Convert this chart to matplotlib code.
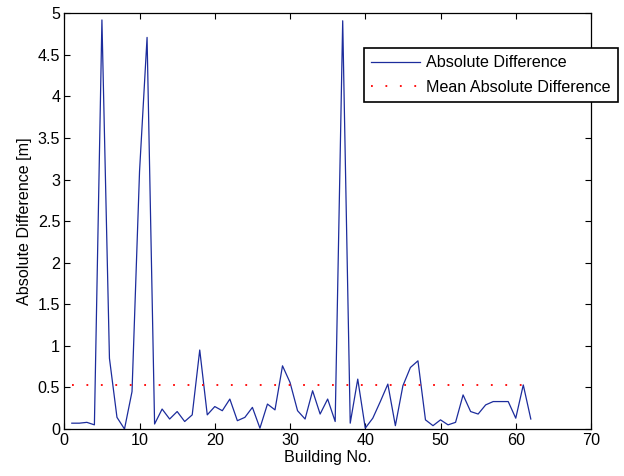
import matplotlib
matplotlib.use("Agg")
import matplotlib.pyplot as plt

plt.rcParams['font.family'] = ['Liberation Sans', 'DejaVu Sans']

building_no = list(range(1, 63))
abs_diff = [0.07, 0.07, 0.08, 0.05, 4.92, 0.85, 0.14, 0.00, 0.45, 3.10,
            4.71, 0.06, 0.24, 0.12, 0.21, 0.09, 0.17, 0.95, 0.17, 0.27,
            0.22, 0.36, 0.10, 0.14, 0.26, 0.01, 0.30, 0.23, 0.76, 0.56,
            0.22, 0.12, 0.46, 0.18, 0.36, 0.09, 4.91, 0.07, 0.60, 0.01,
            0.13, 0.33, 0.54, 0.04, 0.52, 0.74, 0.82, 0.11, 0.04, 0.11,
            0.05, 0.08, 0.41, 0.21, 0.18, 0.29, 0.33, 0.33, 0.33, 0.13,
            0.53, 0.12]
mean_diff = 0.532
x_ticks = [0, 10, 20, 30, 40, 50, 60, 70]
y_ticks = [0, 0.5, 1, 1.5, 2, 2.5, 3, 3.5, 4, 4.5, 5]
y_tick_labels = ['0', '0.5', '1', '1.5', '2', '2.5', '3', '3.5', '4', '4.5', '5']

fig = plt.figure(figsize=(6.24, 4.76), dpi=100)
ax = fig.add_axes([64.3/624, 1 - 429/476, (591 - 64.3)/624, (429 - 13.3)/476])

ax.plot(building_no, abs_diff, color='#1c2c9c', linewidth=0.9, label='Absolute Difference')
ax.plot([building_no[0], building_no[-1]], [mean_diff, mean_diff], color='red',
        linestyle=(0, (1, 7)), linewidth=1.3, label='Mean Absolute Difference')

ax.set_xlim(0, 70)
ax.set_ylim(0, 5)
ax.set_xticks(x_ticks)
ax.set_yticks(y_ticks)
ax.set_yticklabels(y_tick_labels)
ax.tick_params(direction='in', top=True, right=True, labelsize=11.6, length=4, width=0.8, pad=3)
for s in ax.spines.values():
    s.set_linewidth(0.9)

ax.set_xlabel('Building No.', fontsize=11.6, labelpad=1)
ax.set_ylabel('Absolute Difference [m]', fontsize=11.6, labelpad=4)

leg = ax.legend(loc='upper left', bbox_to_anchor=(364/624, 1 - 48/476),
                bbox_transform=fig.transFigure, borderaxespad=0, fontsize=11.6,
                fancybox=False, edgecolor='black', framealpha=1,
                handlelength=3.0, handletextpad=0.4, borderpad=0.45, labelspacing=0.6)
leg.get_frame().set_linewidth(1.2)

fig.savefig('out.png', dpi=100)
